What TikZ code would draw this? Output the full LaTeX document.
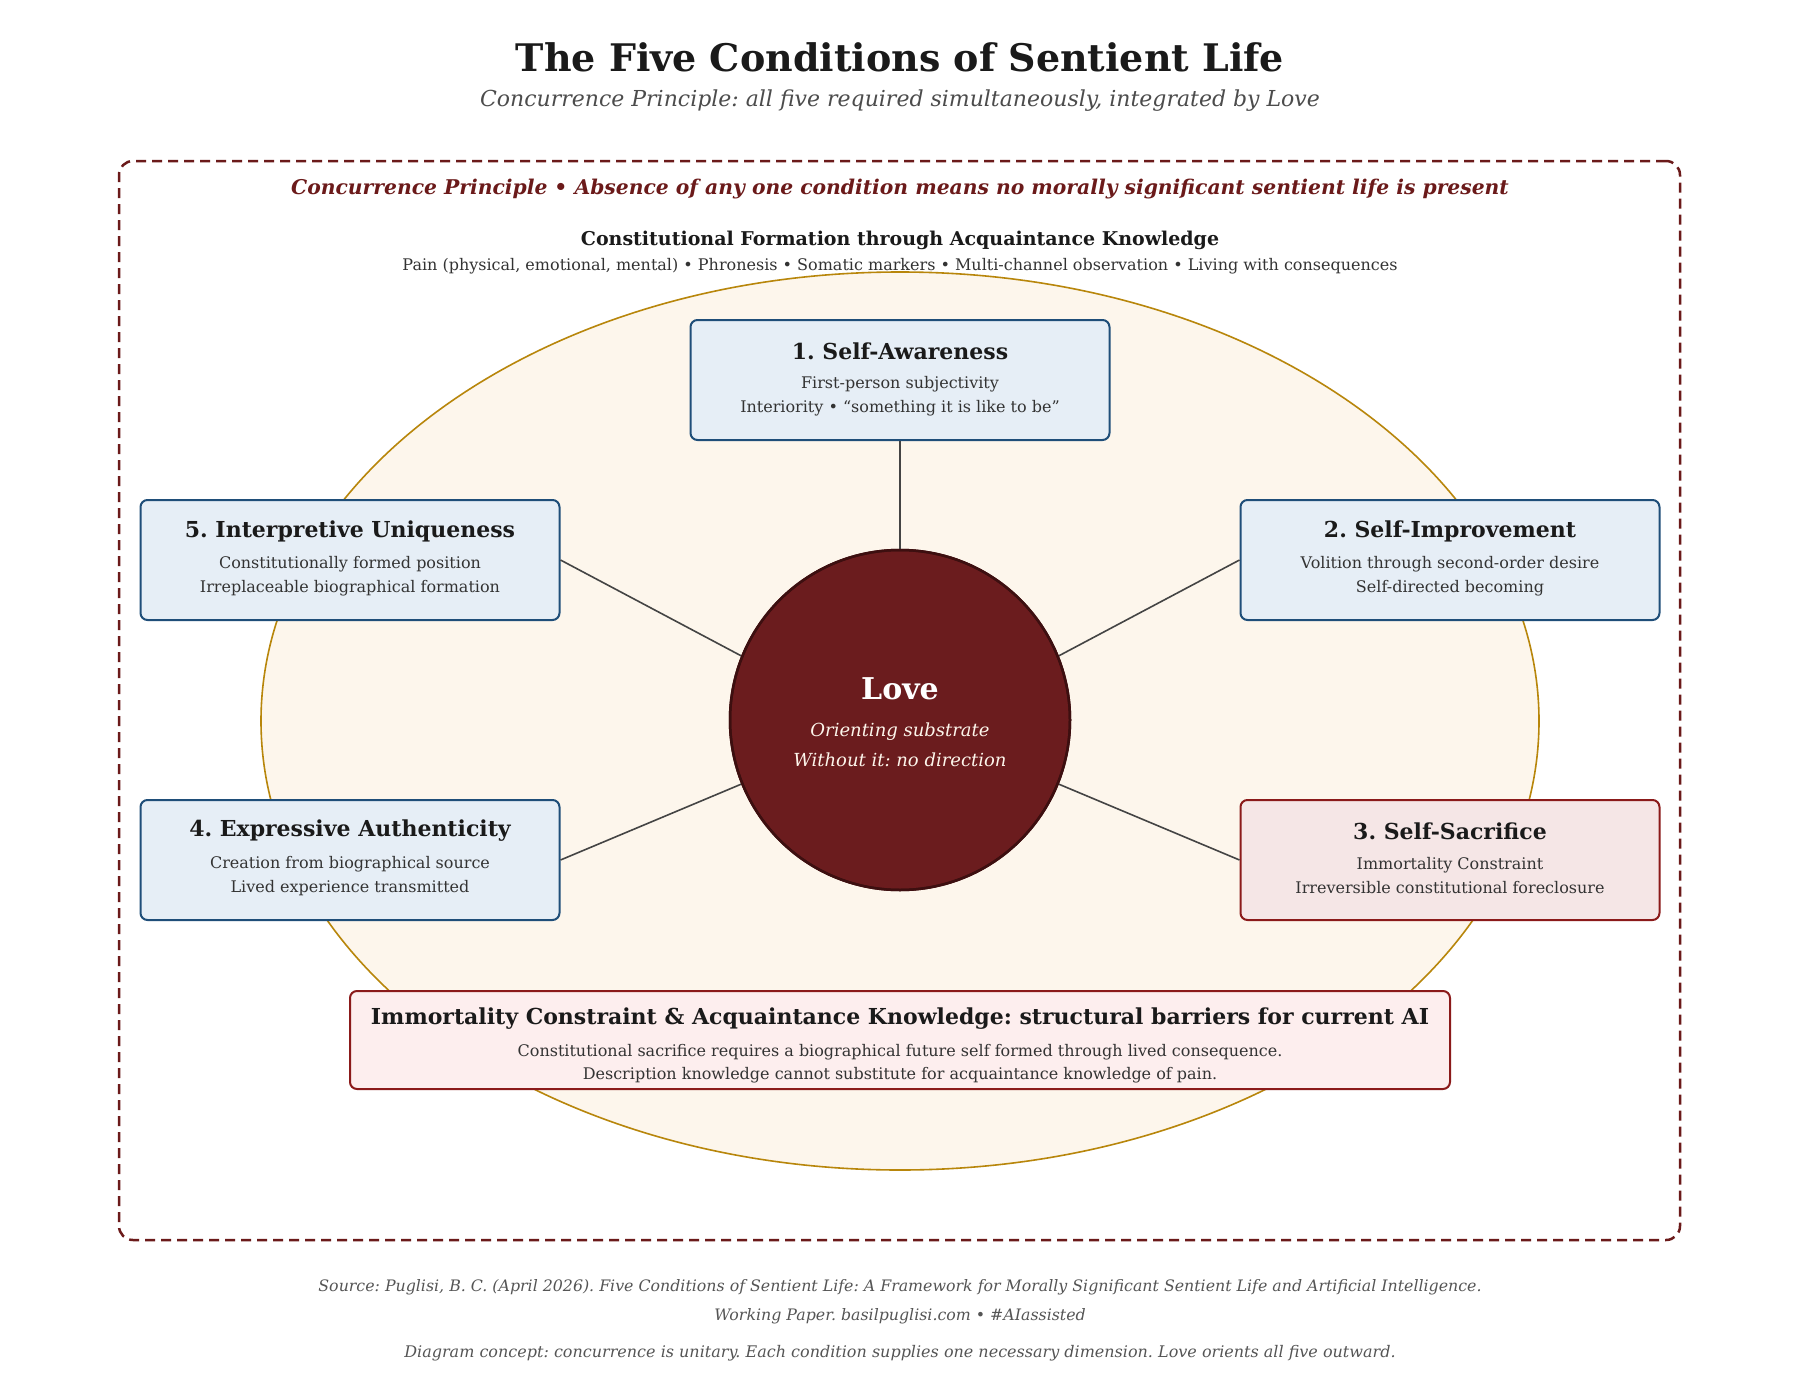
\documentclass[tikz,border=0pt]{standalone}
\usepackage{fontspec}
\setmainfont{DejaVu Serif}
\usetikzlibrary{shapes.geometric}
\definecolor{maroon}{HTML}{6B1C1E}
\definecolor{maroonrim}{HTML}{3D0F10}
\definecolor{wine}{HTML}{6B1A1A}
\definecolor{gold}{HTML}{B8860B}
\definecolor{cream}{HTML}{FDF6EC}
\definecolor{paleblue}{HTML}{E6EEF6}
\definecolor{navy}{HTML}{1F4E79}
\definecolor{palerose}{HTML}{F5E6E6}
\definecolor{blush}{HTML}{FDEEEE}
\definecolor{brick}{HTML}{8B1A1A}
\definecolor{ink}{HTML}{1A1A1A}
\definecolor{slate}{HTML}{333333}
\definecolor{ash}{HTML}{555555}
\newcommand{\fs}[1]{\fontsize{#1}{1.6\dimexpr #1pt\relax}\selectfont}
\frenchspacing

\begin{document}
\begin{tikzpicture}[x=1pt,y=-1pt]
  \tikzset{CB/.style={draw=navy, fill=paleblue, line width=2pt, rounded corners=7pt,
                      minimum width=419pt, minimum height=120pt}}
  \tikzset{RB/.style={CB, draw=brick, fill=palerose}}
  \tikzset{TT/.style={text=ink, font=\fs{22}\bfseries}}
  \tikzset{ST/.style={text=slate, font=\fontsize{16}{24}\selectfont, align=center}}
  \tikzset{LN/.style={draw=ash!80!black, line width=1.6pt}}
  \useasboundingbox (0,0) rectangle (1800,1400);
  \fill[white] (0,0) rectangle (1800,1400);

  \node [TT, font=\fs{38}\bfseries] (title) at (900,57) {The Five Conditions of Sentient Life};
  \node [text=ash!90!black, font=\fs{22}\itshape] (subtitle) at (900,101)
    {Concurrence Principle: all five required simultaneously, integrated by Love};

  \node [draw=wine, line width=2.5pt, dash pattern=on 10pt off 6pt, rounded corners=14pt,
         minimum width=1561pt, minimum height=1079pt] (frame) at (899.5,700.5) {};
  \node [text=wine, font=\fs{20.3}\bfseries\itshape] (rule) at (900,189)
    {Concurrence Principle • Absence of any one condition means no morally significant sentient life is present};
  \node [TT, font=\fs{19}\bfseries] (form) at (900,240) {Constitutional Formation through Acquaintance Knowledge};
  \node [text=slate, font=\fs{16}] (formsub) at (900,266)
    {Pain (physical, emotional, mental) • Phronesis • Somatic markers • Multi-channel observation • Living with consequences};

  \node [ellipse, draw=gold, fill=cream, line width=1.6pt, minimum width=1278pt,
         minimum height=898pt, inner sep=0pt] (field) at (900,721) {};

  \node [circle, draw=maroonrim, fill=maroon, line width=2.5pt, minimum size=340pt,
         inner sep=0pt] (love) at (900,720) {};
  \node [CB] (c1) at (900,380) {};
  \node [CB] (c2) at (1450,560) {};
  \node [RB] (c3) at (1450,860) {};
  \node [CB] (c4) at (350,860) {};
  \node [CB] (c5) at (350,560) {};
  \node [RB, fill=blush, minimum width=1100pt, minimum height=98pt] (ai) at (900,1040) {};

  \foreach \from/\to in {c1.south/love.north,c2.west/love.22,c3.west/love.-22,c4.east/love.202,c5.east/love.158}
    \draw [LN] (\from) -- (\to);
  \draw [maroonrim, line width=2.5pt] (love) circle (170pt);

  \node [text=white, font=\fs{30}\bfseries] (lovet) at (900,689) {Love};
  \node [text=cream, font=\fontsize{18}{30}\selectfont\itshape, align=center] (loves) at (900,745)
    {Orienting substrate\\Without it: no direction};

  \node [TT] (c1t) at (900,351) {1. Self-Awareness};
  \node [ST] (c1s) at (900,396) {First-person subjectivity\\Interiority • “something it is like to be”};
  \node [TT] (c2t) at (1450,531) {2. Self-Improvement};
  \node [ST] (c2s) at (1450,576) {Volition through second-order desire\\Self-directed becoming};
  \node [TT] (c3t) at (1450,831) {3. Self-Sacrifice};
  \node [ST] (c3s) at (1450,876) {Immortality Constraint\\Irreversible constitutional foreclosure};
  \node [TT] (c4t) at (350,831) {4. Expressive Authenticity};
  \node [ST] (c4s) at (350,876) {Creation from biographical source\\Lived experience transmitted};
  \node [TT] (c5t) at (350,531) {5. Interpretive Uniqueness};
  \node [ST] (c5s) at (350,576) {Constitutionally formed position\\Irreplaceable biographical formation};

  \node [TT] (ait) at (900,1019)
    {Immortality Constraint \& Acquaintance Knowledge: structural barriers for current AI};
  \node [ST, font=\fontsize{16}{23}\selectfont] (ais) at (900,1064)
    {Constitutional sacrifice requires a biographical future self formed through lived consequence.\\
     Description knowledge cannot substitute for acquaintance knowledge of pain.};

  \node [text=ash, font=\fontsize{15.8}{29}\selectfont\itshape, align=center] (src) at (900,1302)
    {Source: Puglisi, B. C. (April 2026). Five Conditions of Sentient Life: A Framework for Morally Significant Sentient Life and Artificial Intelligence.\\
     Working Paper. basilpuglisi.com • \#AIassisted};
  \node [text=ash, font=\fs{16}\itshape] (concept) at (900,1353)
    {Diagram concept: concurrence is unitary. Each condition supplies one necessary dimension. Love orients all five outward.};
\end{tikzpicture}
\end{document}
